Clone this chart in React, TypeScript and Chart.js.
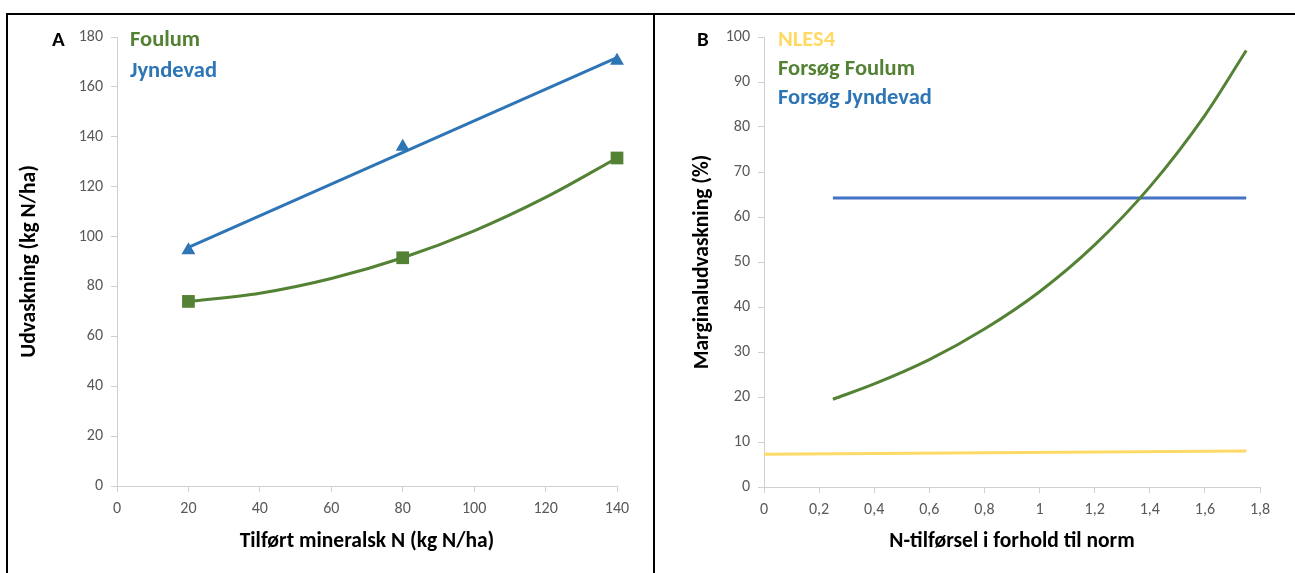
import React, { useEffect, useRef } from "react";
import { Chart, registerables } from "chart.js";

Chart.register(...registerables);

// ---------- Panel A data ----------
const foulumX = [20, 80, 140];
const foulumY = [74, 91.5, 131.5];
const jyndevadX = [20, 80, 140];
const jyndevadY = [94.5, 136, 170.5];
const foulumTrendX = [20, 40, 60, 80, 100, 120, 140];
const foulumTrendY = [74, 77.3, 83.2, 91.5, 102.3, 115.7, 131.5];
const jyndevadTrendX = [20, 140];
const jyndevadTrendY = [95.7, 171.7];

// ---------- Panel B data ----------
const nlesX = [0, 1.75];
const nlesY = [7.3, 8.0];
const forsogFoulumX = [0.25, 0.4, 0.6, 0.8, 1.0, 1.2, 1.4, 1.6, 1.75];
const forsogFoulumY = [19.5, 22.9, 28.3, 35.1, 43.4, 53.8, 66.7, 82.6, 97];
const forsogJyndevadX = [0.25, 1.75];
const forsogJyndevadY = [64.2, 64.2];
const xTickLabelsB = ["0", "0,2", "0,4", "0,6", "0,8", "1", "1,2", "1,4", "1,6", "1,8"];

const FONT = "Carlito, Lato, sans-serif";
const GREEN = "#548235";
const BLUE_A = "#2E75B6";
const BLUE_B = "#4472C4";
const YELLOW = "#FFD966";
const TICK = "#595959";
const AXIS = "#D0D0D0";

const zip = (xs: number[], ys: number[]) => xs.map((x, i) => ({ x, y: ys[i] }));

type Label = { text: string; x: number; y: number; color: string; size: number };

const textPlugin = {
  id: "overlayText",
  afterDraw(chart: any, _args: any, opts: any) {
    const ctx = chart.ctx;
    ctx.save();
    ctx.textBaseline = "middle";
    ctx.textAlign = "left";
    (opts.labels || []).forEach((l: Label) => {
      ctx.font = `bold ${l.size}px ${FONT}`;
      ctx.fillStyle = l.color;
      ctx.fillText(l.text, l.x, l.y);
    });
    ctx.restore();
  },
};

function makeScale(
  min: number,
  max: number,
  step: number,
  title: string,
  isX: boolean,
  fitSize: number,
  titlePad: any,
  labels?: string[]
) {
  return {
    type: "linear",
    min,
    max,
    ticks: {
      stepSize: step,
      color: TICK,
      font: { size: 16, family: FONT },
      padding: isX ? 7 : 8,
      autoSkip: false,
      maxRotation: 0,
      callback: labels
        ? (_v: any, i: number) => labels[i]
        : (v: any) => String(v),
    },
    grid: {
      display: true,
      drawOnChartArea: false,
      drawTicks: true,
      tickLength: 6,
      color: AXIS,
    },
    border: { display: true, color: AXIS, width: 1 },
    title: {
      display: true,
      text: title,
      color: "#000000",
      font: { size: 21.5, weight: "bold", family: FONT },
      padding: titlePad,
    },
    afterFit: (s: any) => {
      if (isX) s.height = fitSize;
      else s.width = fitSize;
    },
  };
}

function ChartCanvas({
  config,
  left,
  width,
  height,
}: {
  config: any;
  left: number;
  width: number;
  height: number;
}) {
  const ref = useRef<HTMLCanvasElement | null>(null);
  useEffect(() => {
    if (!ref.current) return;
    const chart = new Chart(ref.current, config);
    return () => chart.destroy();
  }, []);
  return (
    <div style={{ position: "absolute", left, top: 0, width, height }}>
      <canvas ref={ref} width={width} height={height} style={{ width, height, display: "block" }} />
    </div>
  );
}

const configA = {
  type: "scatter",
  data: {
    datasets: [
      {
        label: "Foulum trend",
        data: zip(foulumTrendX, foulumTrendY),
        showLine: true,
        borderColor: GREEN,
        borderWidth: 3,
        pointRadius: 0,
        tension: 0.4,
        cubicInterpolationMode: "monotone",
      },
      {
        label: "Jyndevad trend",
        data: zip(jyndevadTrendX, jyndevadTrendY),
        showLine: true,
        borderColor: BLUE_A,
        borderWidth: 3,
        pointRadius: 0,
      },
      {
        label: "Foulum",
        data: zip(foulumX, foulumY),
        showLine: false,
        pointStyle: "rect",
        pointRadius: 9,
        backgroundColor: GREEN,
        borderColor: GREEN,
        borderWidth: 0,
        clip: false,
      },
      {
        label: "Jyndevad",
        data: zip(jyndevadX, jyndevadY),
        showLine: false,
        pointStyle: "triangle",
        pointRadius: 8,
        backgroundColor: BLUE_A,
        borderColor: BLUE_A,
        borderWidth: 0,
        clip: false,
      },
    ],
  },
  options: {
    responsive: false,
    maintainAspectRatio: false,
    animation: false,
    layout: { padding: { left: 0, top: 37, right: 37, bottom: 0 } },
    plugins: {
      legend: { display: false },
      tooltip: { enabled: false },
      overlayText: {
        labels: [
          { text: "A", x: 52, y: 41, color: "#000000", size: 21 },
          { text: "Foulum", x: 130, y: 40, color: GREEN, size: 22.5 },
          { text: "Jyndevad", x: 130, y: 71, color: BLUE_A, size: 22.5 },
        ],
      },
    },
    scales: {
      x: makeScale(0, 140, 20, "Tilført mineralsk N (kg N/ha)", true, 87, { top: 0, bottom: 18 }),
      y: makeScale(0, 180, 20, "Udvaskning (kg N/ha)", false, 117, { top: 17, bottom: 0 }),
    },
  },
  plugins: [textPlugin],
};

const configB = {
  type: "scatter",
  data: {
    datasets: [
      {
        label: "NLES4",
        data: zip(nlesX, nlesY),
        showLine: true,
        borderColor: YELLOW,
        borderWidth: 3,
        pointRadius: 0,
      },
      {
        label: "Forsøg Foulum",
        data: zip(forsogFoulumX, forsogFoulumY),
        showLine: true,
        borderColor: GREEN,
        borderWidth: 3,
        pointRadius: 0,
        tension: 0.4,
        cubicInterpolationMode: "monotone",
      },
      {
        label: "Forsøg Jyndevad",
        data: zip(forsogJyndevadX, forsogJyndevadY),
        showLine: true,
        borderColor: BLUE_B,
        borderWidth: 3,
        pointRadius: 0,
      },
    ],
  },
  options: {
    responsive: false,
    maintainAspectRatio: false,
    animation: false,
    layout: { padding: { left: 0, top: 37, right: 35, bottom: 0 } },
    plugins: {
      legend: { display: false },
      tooltip: { enabled: false },
      overlayText: {
        labels: [
          { text: "B", x: 43, y: 41, color: "#000000", size: 21 },
          { text: "NLES4", x: 124, y: 40, color: YELLOW, size: 22.5 },
          { text: "Forsøg Foulum", x: 124, y: 69, color: GREEN, size: 22.5 },
          { text: "Forsøg Jyndevad", x: 124, y: 98, color: BLUE_A, size: 22.5 },
        ],
      },
    },
    scales: {
      x: makeScale(0, 1.8, 0.2, "N-tilførsel i forhold til norm", true, 86, { top: 0, bottom: 18 }, xTickLabelsB),
      y: makeScale(0, 100, 10, "Marginaludvaskning (%)", false, 110, { top: 36, bottom: 0 }),
    },
  },
  plugins: [textPlugin],
};

export default function App() {
  return (
    <div
      style={{
        position: "absolute",
        left: 0,
        top: 0,
        width: 1295,
        height: 573,
        background: "#ffffff",
        overflow: "hidden",
      }}
    >
      <ChartCanvas config={configA} left={0} width={654} height={573} />
      <ChartCanvas config={configB} left={654} width={641} height={573} />
      <div
        style={{
          position: "absolute",
          left: 6,
          top: 13,
          width: 1300,
          height: 600,
          borderLeft: "2px solid #000",
          borderTop: "2px solid #000",
          pointerEvents: "none",
        }}
      />
      <div
        style={{
          position: "absolute",
          left: 653,
          top: 13,
          width: 2,
          height: 560,
          background: "#000",
        }}
      />
    </div>
  );
}
